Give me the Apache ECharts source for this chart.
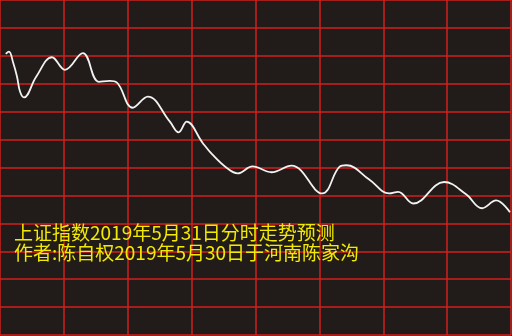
<!DOCTYPE html>
<html>
<head>
<meta charset="utf-8">
<script src="https://cdn.jsdelivr.net/npm/echarts@6/dist/echarts.min.js"></script>
<style>
html,body{margin:0;padding:0;background:#211c1a;}
#main{width:512px;height:336px;}
</style>
</head>
<body>
<div id="main"></div>
<script>
// minutes of the trading day (0..240) and forecast level (grid units, 0..12)
var minutes = [2.7, 4.2, 6.2, 8.0, 9.4, 11.25, 17, 24.4, 30.5, 38.9, 46.4, 51.6, 54.8, 62.3, 69.4, 79.7, 83.9, 87.7, 95.2, 99.8, 106.4, 111.6, 118.6, 127.5, 136.9, 151.4, 159.4, 162.7, 173.4, 182.8, 187.0, 194.1, 208.6, 218.9, 226.4, 233.0, 239.5];
var levels  = [10.07, 10.15, 9.75, 9.25, 8.72, 8.51, 9.25, 9.95, 9.5, 10.1, 9.07, 9.1, 9.05, 8.14, 8.54, 7.65, 7.26, 7.64, 6.88, 6.46, 5.99, 5.79, 6.04, 5.83, 6.07, 5.07, 6.02, 6.08, 5.57, 5.07, 5.13, 4.71, 5.48, 5.04, 4.54, 4.82, 4.40];
var titleLines = ['上证指数2019年5月31日分时走势预测', '作者:陈自权2019年5月30日于河南陈家沟'];

var series = [];
for (var i = 0; i < minutes.length; i++) series.push([minutes[i], levels[i]]);

var chart = echarts.init(document.getElementById('main'), null, {renderer: 'canvas'});
chart.setOption({
  backgroundColor: '#211c1a',
  animation: false,
  title: {
    text: titleLines.join('\n'),
    left: 14,
    top: 223,
    padding: 0,
    textStyle: {
      color: '#f2ea00',
      fontSize: 19,
      lineHeight: 20,
      fontWeight: 'normal',
      fontFamily: '"Noto Sans CJK SC", sans-serif'
    }
  },
  grid: {left: 0, right: 1, top: 0, bottom: 1},
  xAxis: {
    type: 'value', min: 0, max: 240, interval: 30,
    axisLine: {show: false}, axisTick: {show: false}, axisLabel: {show: false},
    splitLine: {show: true, lineStyle: {color: '#d21f1c', width: 1.5}}
  },
  yAxis: {
    type: 'value', min: 0, max: 12, interval: 1,
    axisLine: {show: false}, axisTick: {show: false}, axisLabel: {show: false},
    splitLine: {show: true, lineStyle: {color: '#d21f1c', width: 1.5}}
  },
  series: [{
    type: 'line',
    data: series,
    smooth: 0.4,
    showSymbol: false,
    lineStyle: {color: '#f2f2f2', width: 1.8}
  }]
});
</script>
</body>
</html>
